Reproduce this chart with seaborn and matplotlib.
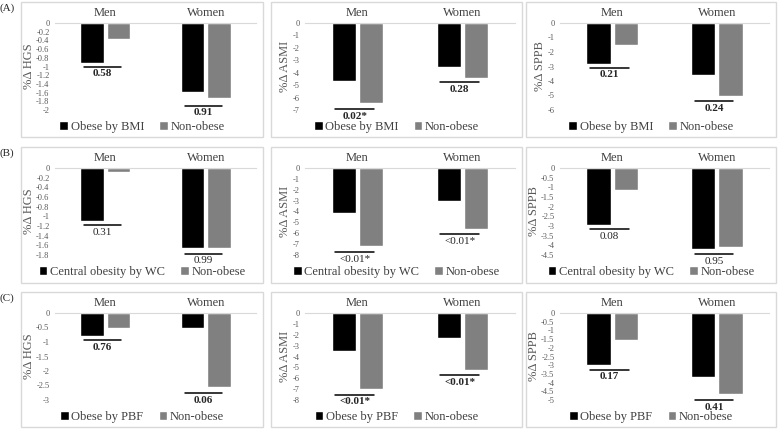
import matplotlib
matplotlib.use("Agg")
import matplotlib.pyplot as plt
from matplotlib.patches import Rectangle
from matplotlib.ticker import MultipleLocator, FuncFormatter
import pandas as pd
import seaborn as sns

# --- data ---
sexes = ["Men", "Women"]
row_tags = ["(A)", "(B)", "(C)"]
obese_labels = ["Obese by BMI", "Central obesity by WC", "Obese by PBF"]
nonobese_label = "Non-obese"
outcomes = ["HGS", "ASMI", "SPPB"]

# [row][outcome] -> [men, women]
obese_vals = [
    [[-0.92, -1.58], [-4.63, -3.52], [-2.8, -3.57]],
    [[-1.1, -1.66], [-4.15, -3.05], [-2.95, -4.2]],
    [[-0.8, -0.5], [-3.45, -2.3], [-3.0, -3.65]],
]
nonobese_vals = [
    [[-0.37, -1.73], [-6.45, -4.4], [-1.5, -5.0]],
    [[-0.09, -1.66], [-7.15, -5.65], [-1.15, -4.1]],
    [[-0.5, -2.55], [-7.0, -5.25], [-1.55, -4.65]],
]
p_line_y = [
    [[-1.0, -1.9], [-6.95, -4.75], [-3.07, -5.38]],
    [[-1.18, -1.77], [-7.7, -6.1], [-3.15, -4.47]],
    [[-0.94, -2.75], [-7.5, -5.7], [-3.25, -5.0]],
]
p_text = [
    [["0.58", "0.91"], ["0.02*", "0.28"], ["0.21", "0.24"]],
    [["0.31", "0.99"], ["<0.01*", "<0.01*"], ["0.08", "0.95"]],
    [["0.76", "0.06"], ["<0.01*", "<0.01*"], ["0.17", "0.41"]],
]
y_floor = [[-2, -7, -6], [-1.8, -8, -4.5], [-3, -8, -5]]
y_step = [[0.2, 1, 1], [0.2, 1, 0.5], [0.5, 1, 0.5]]
p_bold = [True, False, True]

# --- layout in pixels ---
W, H = 778, 429
col_px = [(21, 263), (271, 522), (526, 776)]
row_px = [(2, 137), (147, 283), (292, 427)]

sns.set_style("white")
plt.rcParams["font.family"] = ["Liberation Serif", "DejaVu Serif"]

fig = plt.figure(figsize=(W / 100, H / 100), dpi=100)

def fx(px):
    return px / W

def fy(py):
    return 1 - py / H

fmt = FuncFormatter(lambda v, _: "0" if abs(v) < 1e-9 else f"{v:g}")
colors = ["#000000", "#808080"]

for r in range(3):
    top, bot = row_px[r]
    fig.text(fx(0), fy(top + 6), row_tags[r], fontsize=8, va="center", ha="left")
    for c in range(3):
        left, right = col_px[c]
        fig.add_artist(Rectangle((fx(left), fy(bot)), fx(right - left), (bot - top) / H,
                                 transform=fig.transFigure, fill=False,
                                 edgecolor="#d9d9d9", linewidth=1))

        df = pd.DataFrame({
            "sex": sexes * 2,
            "group": [obese_labels[r]] * 2 + [nonobese_label] * 2,
            "value": obese_vals[r][c] + nonobese_vals[r][c],
        })

        ax = fig.add_axes([fx(left + 34), fy(top + 108), fx((right - 7) - (left + 34)), 87 / H])
        sns.barplot(data=df, x="sex", y="value", hue="group",
                    hue_order=[obese_labels[r], nonobese_label], palette=colors,
                    width=0.52, gap=0.1, errorbar=None, saturation=1, ax=ax)

        ax.set_xlim(-0.5, 1.5)
        ax.set_ylim(y_floor[r][c], 0)
        ax.yaxis.set_major_locator(MultipleLocator(y_step[r][c]))
        ax.yaxis.set_major_formatter(fmt)
        ax.tick_params(axis="y", length=0, labelsize=6, labelcolor="#595959", pad=4)
        ax.xaxis.tick_top()
        ax.tick_params(axis="x", length=0, labelsize=9, labelcolor="#404040", pad=3)
        ax.set_xlabel("")
        ax.set_ylabel(f"%Δ {outcomes[c]}", fontsize=9, color="#595959", labelpad=1)
        for side in ["left", "right", "bottom"]:
            ax.spines[side].set_visible(False)
        ax.spines["top"].set_color("#d9d9d9")
        ax.spines["top"].set_linewidth(0.8)
        ax.set_facecolor("none")

        for i in range(2):
            py = p_line_y[r][c][i]
            ax.plot([i - 0.21, i + 0.16], [py, py], color="black", lw=1.1,
                    clip_on=False, zorder=5)
            ax.annotate(p_text[r][c][i], xy=(i - 0.025, py), xytext=(0, -2),
                        textcoords="offset points", ha="center", va="top",
                        fontsize=8, fontweight="bold" if p_bold[r] else "normal",
                        annotation_clip=False, zorder=6)

        handles, labels = ax.get_legend_handles_labels()
        if ax.get_legend() is not None:
            ax.get_legend().remove()
        ax.legend(handles, labels, loc="center",
                  bbox_to_anchor=(fx((left + right) / 2), fy(top + 125)),
                  bbox_transform=fig.transFigure, ncol=2, frameon=False,
                  fontsize=9, handlelength=0.7, handleheight=0.7,
                  handletextpad=0.2, columnspacing=1.2, borderaxespad=0,
                  labelcolor="#404040")

fig.savefig("out.png", dpi=100)
